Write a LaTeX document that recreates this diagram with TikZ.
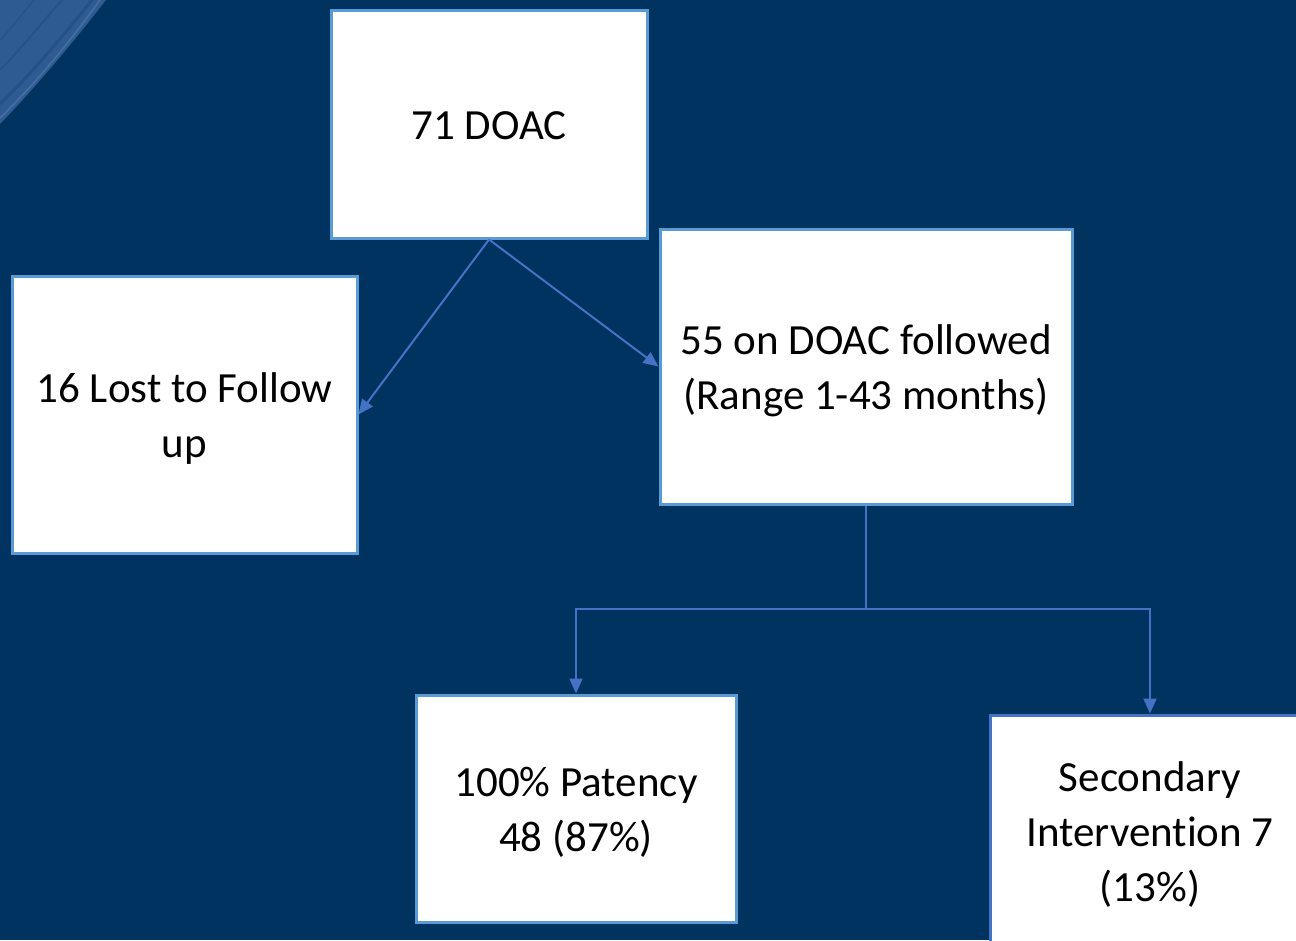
\documentclass[tikz,border=0pt]{standalone}
\usepackage{fontspec}
\setmainfont{Carlito}[Ligatures=NoCommon]
\usetikzlibrary{arrows.meta}
\definecolor{bgnavy}{HTML}{00335F}
\definecolor{boxline}{HTML}{5B9BD5}
\definecolor{arrowblue}{HTML}{4472C4}
\definecolor{cornerblue}{HTML}{2E5C92}
\definecolor{streak}{HTML}{1F4A7E}
\newcommand{\boxtext}[1]{\raisebox{-4pt}[\height][\depth]{\begin{tabular}{@{}c@{}}#1\end{tabular}}}
\tikzset{
  box/.style={draw=boxline, line width=3pt, fill=white, rectangle, inner sep=0pt,
    align=center, font=\fontsize{43}{55}\selectfont, text=black},
  conn/.style={draw=arrowblue, line width=2pt},
  arr/.style={conn, -{Triangle[length=15pt,width=13pt]}},
}
\begin{document}
\begin{tikzpicture}[x=1pt,y=-1pt]
\useasboundingbox (0,0) rectangle (1296,940);
\fill[bgnavy] (0,0) rectangle (1296,940);
% corner texture
\fill[cornerblue] (0,0) -- (106,0) .. controls (75,40) and (35,88) .. (0,124) -- cycle;
\draw[streak, line width=3pt, opacity=0.6] (0,104) .. controls (30,75) and (60,40) .. (92,0);
\draw[streak, line width=2pt, opacity=0.5] (0,70) .. controls (20,50) and (40,25) .. (62,0);
\draw[streak, line width=2pt, opacity=0.4] (0,40) .. controls (12,28) and (22,14) .. (34,0);
\draw[cornerblue!80!white, line width=1.5pt, opacity=0.6] (0,118) .. controls (35,84) and (70,42) .. (100,0);

\node[box, minimum width=316pt, minimum height=228pt] (doac) at (489,124) {\boxtext{71 DOAC}};
\node[box, minimum width=345pt, minimum height=277pt] (lost) at (184.5,414.5) {\boxtext{16 Lost to Follow\\up}};
\node[box, minimum width=412pt, minimum height=275pt] (followed) at (866,366.5) {\boxtext{55 on DOAC followed\\(Range 1-43 months)}};
\node[box, minimum width=320pt, minimum height=227pt] (patency) at (576,808.5) {\boxtext{100\% Patency\\48 (87\%)}};
\begin{scope}
\clip (0,0) rectangle (1296,940);
\node[box, draw=arrowblue, minimum width=320pt, minimum height=232pt] (secondary) at (1150,831) {\boxtext{Secondary\\Intervention 7\\(13\%)}};
\end{scope}

\coordinate (split) at (866,609);
\draw[arr] (doac.south) -- (lost.east);
\draw[arr] (doac.south) -- (followed.west);
\draw[conn] (followed.south) -- (split);
\draw[arr] (split) -| (patency.north);
\draw[arr] (split) -| (secondary.north);
\end{tikzpicture}
\end{document}
